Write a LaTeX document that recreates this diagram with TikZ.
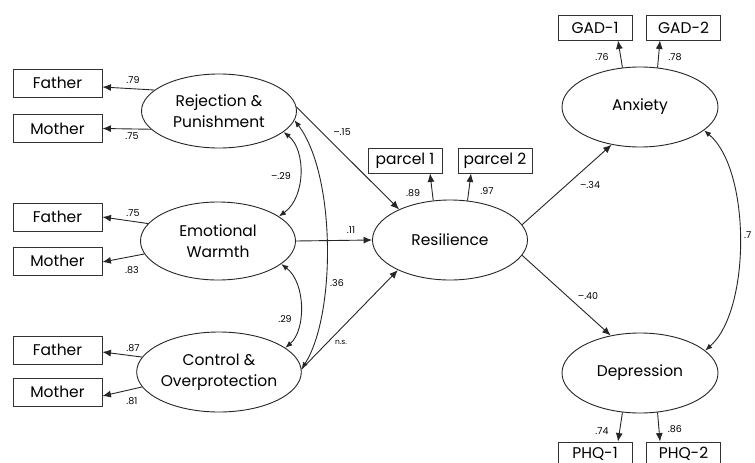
\documentclass[tikz,border=0pt]{standalone}
\usepackage{fontspec}
\setmainfont{Poppins}
\usetikzlibrary{arrows.meta,shapes.geometric}
\begin{document}
\begin{tikzpicture}[x=1pt,y=-1pt,
  lat/.style={ellipse,draw=black!85,line width=0.9pt,inner sep=0pt,minimum width=155pt,minimum height=78pt,align=center,font=\fontsize{15.5}{21}\selectfont},
  obs/.style={rectangle,draw=black!80,line width=0.9pt,inner sep=0pt,minimum width=89pt,minimum height=28pt,font=\fontsize{15.5}{18}\selectfont},
  obss/.style={obs,minimum width=74pt,minimum height=25pt},
  arr/.style={-{Latex[length=8.5pt,width=7pt]},line width=0.9pt,draw=black!85},
  dar/.style={{Latex[length=7pt,width=5.5pt]}-{Latex[length=7pt,width=5.5pt]},line width=0.9pt,draw=black!85},
  lbl/.style={font=\fontsize{9.5}{11}\selectfont,inner sep=0pt}
]
\fill[white] (0,0) rectangle (755,463);
\clip (0,0) rectangle (755,463);

% latent variables
\node[lat,minimum height=74pt] (rej) at (219,111) {Rejection \&\\Punishment};
\node[lat] (emo) at (218,241) {Emotional\\Warmth};
\node[lat,minimum height=80pt] (ctl) at (219,372) {Control \&\\Overprotection};
\node[lat,minimum height=80pt] (res) at (450,240) {Resilience};
\node[lat,minimum height=80pt,minimum width=156pt] (anx) at (640,107) {Anxiety};
\node[lat,minimum height=80pt,minimum width=156pt] (dep) at (640,373) {Depression};

% observed
\node[obs] (f1) at (57.5,83) {Father};
\node[obs] (m1) at (57.5,128.5) {Mother};
\node[obs] (f2) at (57.5,217) {Father};
\node[obs] (m2) at (57.5,261) {Mother};
\node[obs] (f3) at (57.5,350) {Father};
\node[obs] (m3) at (57.5,392) {Mother};
\node[obss] (p1) at (405,160.5) {parcel 1};
\node[obss] (p2) at (495,160.5) {parcel 2};
\node[obss] (g1) at (595,27.5) {GAD-1};
\node[obss] (g2) at (683.5,27.5) {GAD-2};
\node[obss,minimum height=22pt,text height=10.5pt,text depth=0pt] (q1) at (595,453) {PHQ-1};
\node[obss,minimum height=22pt,text height=10.5pt,text depth=0pt] (q2) at (683.5,453) {PHQ-2};

% measurement arrows
\draw[arr] (rej.162) -- ([yshift=-4pt]f1.east);
\draw[arr] (rej.195) -- (m1.east);
\draw[arr] (emo.166) -- (f2.east);
\draw[arr] (emo.190) -- ([yshift=-1pt]m2.east);
\draw[arr] (ctl.169) -- ([yshift=-2pt]f3.east);
\draw[arr] (ctl.191) -- ([yshift=-4pt]m3.east);
\draw[arr] (res.113) -- ([xshift=25pt]p1.south);
\draw[arr] (res.66) -- ([xshift=-24pt]p2.south);
\draw[arr] (anx.114) -- ([xshift=23pt]g1.south);
\draw[arr] (anx.66) -- ([xshift=-23.5pt]g2.south);
\draw[arr] (dep.246) -- ([xshift=23pt]q1.north);
\draw[arr] (dep.294) -- ([xshift=-23.5pt]q2.north);

% structural paths
\draw[arr] (rej.3) -- (res.149);
\draw[arr] (emo.east) -- (res.west);
\draw[arr] (ctl.2) -- (res.210);
\draw[arr] (res.12) -- (anx.233);
\draw[arr] (res.-12) -- (dep.128);

% covariances
\draw[dar] (rej.-18) .. controls (306,150) and (306,197) .. (emo.22);
\draw[dar] (emo.-20) .. controls (306,283) and (306,330) .. (ctl.20);
\draw[dar] (rej.-7) .. controls (336,175) and (336,315) .. (ctl.2);
\draw[dar] (anx.-20) .. controls (751,170) and (751,310) .. (dep.19);

% labels
\node[lbl] (l1) at (133,80) {.79};
\node[lbl] (l2) at (132,136) {.75};
\node[lbl] (l3) at (133,213) {.75};
\node[lbl] (l4) at (132,270) {.83};
\node[lbl] (l5) at (133,348) {.87};
\node[lbl] (l6) at (132,401) {.81};
\node[lbl] (l7) at (281,176) {–.29};
\node[lbl] (l8) at (285,319) {.29};
\node[lbl] (l9) at (337,283) {.36};
\node[lbl] (l10) at (342,132) {–.15};
\node[lbl] (l11) at (351,230) {.11};
\node[lbl,font=\fontsize{7.5}{9}\selectfont] (l12) at (341,342) {n.s.};
\node[lbl] (l13) at (413,193) {.89};
\node[lbl] (l14) at (487,191) {.97};
\node[lbl] (l15) at (590,185) {–.34};
\node[lbl] (l16) at (588,296) {–.40};
\node[lbl] (l17) at (602,57) {.76};
\node[lbl] (l18) at (675,57) {.78};
\node[lbl] (l19) at (602,431) {.74};
\node[lbl] (l20) at (675,429) {.86};
\node[lbl,anchor=west] (l21) at (744,235) {.7};
\end{tikzpicture}
\end{document}
